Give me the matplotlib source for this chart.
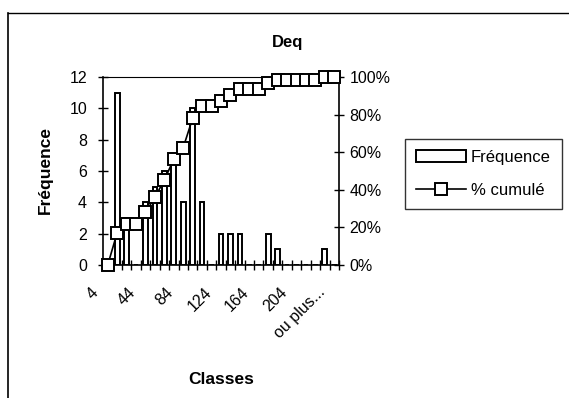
import numpy as np
import matplotlib
matplotlib.use("Agg")
import matplotlib.pyplot as plt
from matplotlib.lines import Line2D
from matplotlib.patches import Patch
from matplotlib.ticker import FixedLocator, PercentFormatter
import matplotlib.transforms as mtransforms

plt.rcParams['font.family'] = ['Liberation Sans', 'DejaVu Sans']

classes = ['4', '14', '24', '34', '44', '54', '64', '74', '84', '94', '104', '114',
           '124', '134', '144', '154', '164', '174', '184', '194', '204', '214',
           '224', '234', 'ou plus...']
frequence = [0, 11, 3, 0, 4, 5, 6, 7, 4, 10, 4, 0, 2, 2, 2, 0, 0, 2, 1, 0, 0, 0, 0, 1, 0]
cumule = [0.0, 17.19, 21.88, 21.88, 28.13, 35.94, 45.31, 56.25, 62.5, 78.13, 84.38,
          84.38, 87.5, 90.63, 93.75, 93.75, 93.75, 96.88, 98.44, 98.44, 98.44, 98.44,
          98.44, 100.0, 100.0]
shown_labels = ['4', '44', '84', '124', '164', '204', 'ou plus...']

W, H = 569, 398
fig = plt.figure(figsize=(W / 100, H / 100), dpi=100)
fig.patch.set_facecolor('white')

ax = fig.add_axes([103 / W, 1 - 265 / H, (339 - 103) / W, (265 - 77) / H])
x = np.arange(len(classes))

ax.bar(x, frequence, width=0.5, color='white', edgecolor='black', linewidth=1.4, zorder=2)
ax.set_xlim(-0.5, len(classes) - 0.5)
ax.set_ylim(0, 12)
ax.set_yticks(np.arange(0, 13, 2))

ax2 = ax.twinx()
ax2.plot(x, cumule, color='black', linewidth=1.2, marker='s', markersize=8.3,
         markerfacecolor='white', markeredgecolor='black', markeredgewidth=1.4,
         clip_on=False, zorder=3)
ax2.set_ylim(0, 100)
ax2.set_yticks(np.arange(0, 101, 20))
ax2.yaxis.set_major_formatter(PercentFormatter(decimals=0))

for a in (ax, ax2):
    a.patch.set_visible(False)
    for s in a.spines.values():
        s.set_linewidth(1.2)
        s.set_color('black')
ax.spines['right'].set_visible(False)
ax2.spines['left'].set_visible(False)
ax2.spines['bottom'].set_visible(False)
ax.spines['top'].set_linestyle((0, (1, 1)))
ax.spines['top'].set_linewidth(0.8)
ax2.spines['top'].set_visible(False)

ax.tick_params(axis='y', direction='inout', length=7, width=1, pad=8, labelsize=11.5)
ax2.tick_params(axis='y', direction='inout', length=7, width=1, pad=4, labelsize=11.5)

# category axis: minor cross ticks at boundaries, labels every 4th class
ax.xaxis.set_minor_locator(FixedLocator(np.arange(-0.5, len(classes), 1.0)))
ax.tick_params(axis='x', which='minor', direction='inout', length=7, width=1)
label_pos = [classes.index(l) for l in shown_labels]
ax.set_xticks(label_pos)
ax.set_xticklabels(shown_labels)
ax.tick_params(axis='x', which='major', length=0, pad=0, labelsize=11.5)
offset = mtransforms.ScaledTranslation(-12 / 100, -25 / 100, fig.dpi_scale_trans)
for lab in ax.get_xticklabels():
    lab.set_rotation(45)
    lab.set_ha('right')
    lab.set_va('center')
    lab.set_rotation_mode('anchor')
    lab.set_transform(lab.get_transform() + offset)

# titles
fig.text(288 / W, 1 - 42 / H, 'Deq', fontsize=12, fontweight='bold', ha='center', va='center')
fig.text(221 / W, 1 - 379 / H, 'Classes', fontsize=12.5, fontweight='bold', ha='center', va='center')
fig.text(45 / W, 1 - 170 / H, 'Fréquence', fontsize=12.5, fontweight='bold', rotation=90,
         ha='center', va='center')

# legend
handles = [Patch(facecolor='white', edgecolor='black', linewidth=1.4, label='Fréquence'),
           Line2D([0], [0], color='black', linewidth=1.2, marker='s', markersize=8.3,
                  markerfacecolor='white', markeredgecolor='black', markeredgewidth=1.4,
                  label='% cumulé')]
leg = fig.legend(handles=handles, loc='upper left', bbox_to_anchor=(405 / W, 1 - 139 / H),
                 fontsize=12, frameon=True, fancybox=False, edgecolor='black',
                 handlelength=3.0, handleheight=0.7, handletextpad=0.3, labelspacing=1.1,
                 borderpad=0.65, borderaxespad=0)
leg.get_frame().set_linewidth(1.0)

# outer chart frame (left and top edges)
fig.add_artist(Line2D([7.5 / W, 7.5 / W], [0, 1 - 13 / H], color='black', linewidth=1.2,
                      transform=fig.transFigure))
fig.add_artist(Line2D([7.5 / W, 1], [1 - 13 / H, 1 - 13 / H], color='black', linewidth=1.0,
                      transform=fig.transFigure))

fig.savefig('out.png', dpi=100)
